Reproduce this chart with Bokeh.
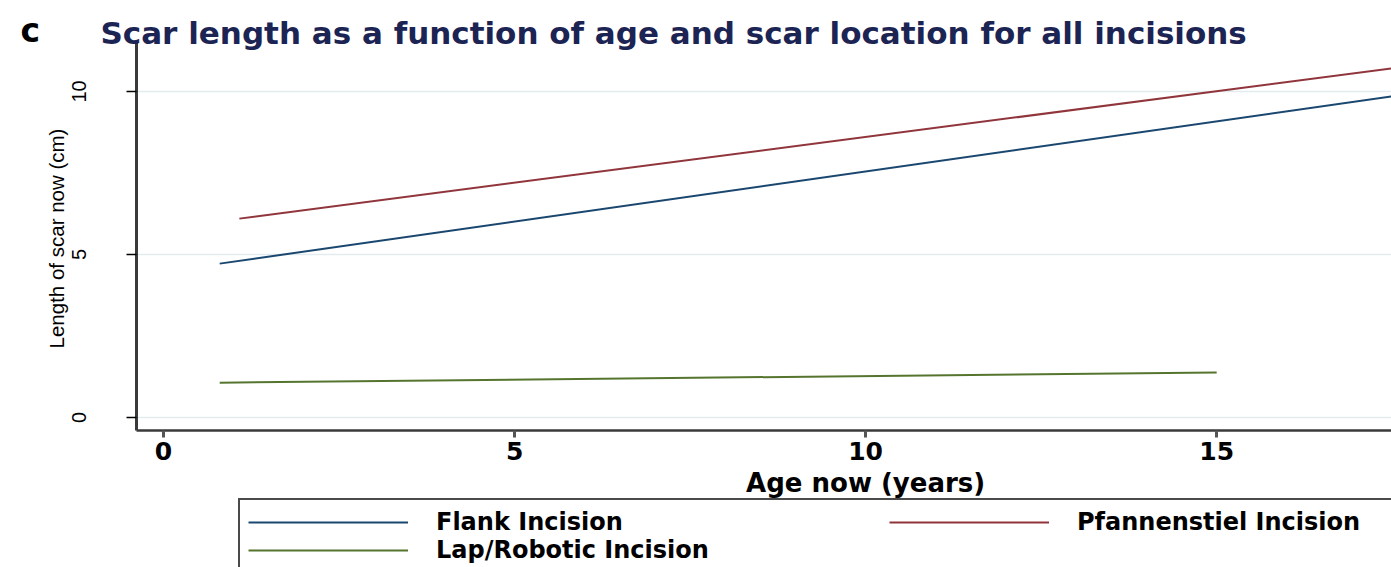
import math
from bokeh.plotting import figure
from bokeh.models import Range1d, Label, Legend, LegendItem, FixedTicker
from bokeh.embed import file_html
from bokeh.resources import INLINE

# Fitted scar length (cm) against age now (years), one line per incision type
age_flank = [0.8, 17.5]
scar_flank = [4.72, 9.85]
age_pfann = [1.08, 17.5]
scar_pfann = [6.10, 10.71]
age_lap = [0.8, 15.0]
scar_lap = [1.07, 1.38]

x_ticks = [0, 5, 10, 15, 20]
y_ticks = [0, 5, 10]
series_names = ["Flank Incision", "Pfannenstiel Incision", "Lap/Robotic Incision"]
series_colors = ["#1a476f", "#90353b", "#55752f"]

panel_tag = "c"
title_text = "Scar length as a function of age and scar location for all incisions"
x_title = "Age now (years)"
y_title = "Length of scar now (cm)"

WIDE = "DejaVu Sans"
PLAIN = "Liberation Sans"
AXIS = "#3a3a3a"

W, H = 1391, 567

# plotting region: axes sit at x=-0.385 and y=-0.40; the canvas around them
# carries the heading, axis titles and legend
X_AXIS_AT = -0.40
Y_AXIS_AT = -0.385
Y_TOP = 11.56
X_END = 20.0

p = figure(width=W, height=H, output_backend="svg", toolbar_location=None,
           x_range=Range1d(-2.322, 17.49), y_range=Range1d(-4.60, 12.79),
           min_border=0, min_border_left=0, min_border_right=0,
           min_border_top=0, min_border_bottom=0)
p.outline_line_color = None
p.background_fill_color = "white"
p.border_fill_color = "white"
p.xgrid.visible = False
p.ygrid.visible = False

# light horizontal rules at the y ticks, running from the y axis rightwards
p.segment(x0=[Y_AXIS_AT] * len(y_ticks), x1=[X_END] * len(y_ticks),
          y0=y_ticks, y1=y_ticks, line_color="#e2ebee", line_width=1.5)

# x axis
xa = p.xaxis[0]
xa.fixed_location = X_AXIS_AT
xa.bounds = (Y_AXIS_AT, X_END)
xa.ticker = FixedTicker(ticks=x_ticks)
xa.axis_line_color = AXIS
xa.axis_line_width = 2.5
xa.major_tick_line_color = "#555555"
xa.major_tick_line_width = 3
xa.major_tick_out = 7
xa.major_tick_in = 0
xa.minor_tick_line_color = None
xa.major_label_text_font = WIDE
xa.major_label_text_font_style = "bold"
xa.major_label_text_font_size = "25px"
xa.major_label_text_color = "black"
xa.major_label_standoff = 4

# y axis
ya = p.yaxis[0]
ya.fixed_location = Y_AXIS_AT
ya.bounds = (X_AXIS_AT, Y_TOP)
ya.ticker = FixedTicker(ticks=y_ticks)
ya.axis_line_color = AXIS
ya.axis_line_width = 3
ya.major_tick_line_color = "black"
ya.major_tick_line_width = 1.5
ya.major_tick_out = 10
ya.major_tick_in = 0
ya.minor_tick_line_color = None
ya.major_label_orientation = "vertical"
ya.major_label_text_font = PLAIN
ya.major_label_text_font_size = "20px"
ya.major_label_text_color = "black"
ya.major_label_standoff = 40

# fitted lines
r_flank = p.line(age_flank, scar_flank, line_color=series_colors[0], line_width=2)
r_pfann = p.line(age_pfann, scar_pfann, line_color=series_colors[1], line_width=2)
r_lap = p.line(age_lap, scar_lap, line_color=series_colors[2], line_width=2)

# axis titles
p.add_layout(Label(x=10, y=H - 482, x_units="data", y_units="screen", text=x_title,
                   text_font=WIDE, text_font_style="bold", text_font_size="26px",
                   text_color="black", text_align="center", text_baseline="alphabetic"))
p.add_layout(Label(x=56, y=H - 238, x_units="screen", y_units="screen", text=y_title,
                   angle=math.pi / 2, text_font=PLAIN, text_font_size="20.5px",
                   text_color="black", text_align="center", text_baseline="middle"))

# panel letter and heading
p.add_layout(Label(x=20, y=H - 30, x_units="screen", y_units="screen", text=panel_tag,
                   text_font=WIDE, text_font_style="bold", text_font_size="33px",
                   text_color="black", text_baseline="alphabetic"))
p.add_layout(Label(x=100, y=H - 32, x_units="screen", y_units="screen", text=title_text,
                   text_font=WIDE, text_font_style="bold", text_font_size="31px",
                   text_color="#1c2454", text_baseline="alphabetic"))

# legend box below the axis, two columns; it runs past the lower and right edges
legend = Legend(
    items=[LegendItem(label=series_names[0], renderers=[r_flank]),
           LegendItem(label=series_names[2], renderers=[r_lap]),
           LegendItem(label=series_names[1], renderers=[r_pfann])],
    location=(238, H - 499 - 75), orientation="vertical", nrows=2,
    glyph_width=160, glyph_height=20, label_standoff=28, label_width=453,
    label_height=20, spacing=0, padding=8, margin=0,
    label_text_font=WIDE, label_text_font_style="bold", label_text_font_size="24px",
    label_text_color="black",
    border_line_color="#4a4a4a", border_line_width=2, border_line_alpha=1.0,
    background_fill_color="white", background_fill_alpha=1.0,
)
p.add_layout(legend, "center")

open("out.html", "w").write(file_html(p, INLINE))
